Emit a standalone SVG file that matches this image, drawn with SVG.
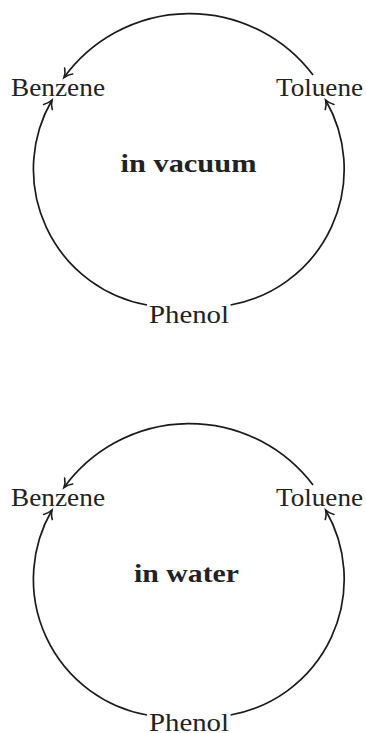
<svg xmlns="http://www.w3.org/2000/svg" width="366" height="733" viewBox="0 0 366 733">
<style>
.lbl{font-family:"Liberation Serif","Times New Roman",serif;font-size:25px;fill:#222}
.ttl{font-family:"Liberation Serif","Times New Roman",serif;font-size:25px;font-weight:bold;fill:#222}
.edge{fill:none;stroke:#1a1a1a;stroke-width:1.7;marker-end:url(#arr)}
</style>
<defs>
<marker id="arr" markerUnits="userSpaceOnUse" viewBox="-10 -7 13 14" markerWidth="13" markerHeight="14" refX="0" refY="0" orient="auto">
<path d="M-8,-5 C-5.5,-2.2 -2.2,-0.7 0,0 C-2.2,0.7 -5.5,2.2 -8,5" fill="none" stroke="#1a1a1a" stroke-width="1.6" stroke-linecap="round"/>
</marker>
</defs>
<rect width="366" height="733" fill="#fff"/>

<!-- vacuum cycle -->
<g id="connectors-vacuum">
<path class="edge" d="M313,75 A155,155 0 0 0 64,77.5"/>
<path class="edge" d="M147,305 A138,138 0 0 1 52,100"/>
<path class="edge" d="M230.6,305 A138,138 0 0 0 325.6,100"/>
</g>
<g id="vac-benzene"><text class="lbl" x="11" y="96" textLength="94" lengthAdjust="spacingAndGlyphs">Benzene</text></g>
<g id="vac-toluene"><text class="lbl" x="276" y="96" textLength="87" lengthAdjust="spacingAndGlyphs">Toluene</text></g>
<g id="vac-phenol"><text class="lbl" x="149" y="323" textLength="80" lengthAdjust="spacingAndGlyphs">Phenol</text></g>
<g id="vac-title"><text class="ttl" x="120.5" y="172" textLength="136" lengthAdjust="spacingAndGlyphs">in vacuum</text></g>

<!-- water cycle -->
<g id="connectors-water">
<path class="edge" d="M313,485 A155,155 0 0 0 64,487.5"/>
<path class="edge" d="M147,715 A138,138 0 0 1 52,510"/>
<path class="edge" d="M230.6,715 A138,138 0 0 0 325.6,510"/>
</g>
<g id="wat-benzene"><text class="lbl" x="11" y="506" textLength="94" lengthAdjust="spacingAndGlyphs">Benzene</text></g>
<g id="wat-toluene"><text class="lbl" x="276" y="506" textLength="87" lengthAdjust="spacingAndGlyphs">Toluene</text></g>
<g id="wat-phenol"><text class="lbl" x="149" y="731" textLength="80" lengthAdjust="spacingAndGlyphs">Phenol</text></g>
<g id="wat-title"><text class="ttl" x="134" y="582" textLength="105" lengthAdjust="spacingAndGlyphs">in water</text></g>
</svg>
